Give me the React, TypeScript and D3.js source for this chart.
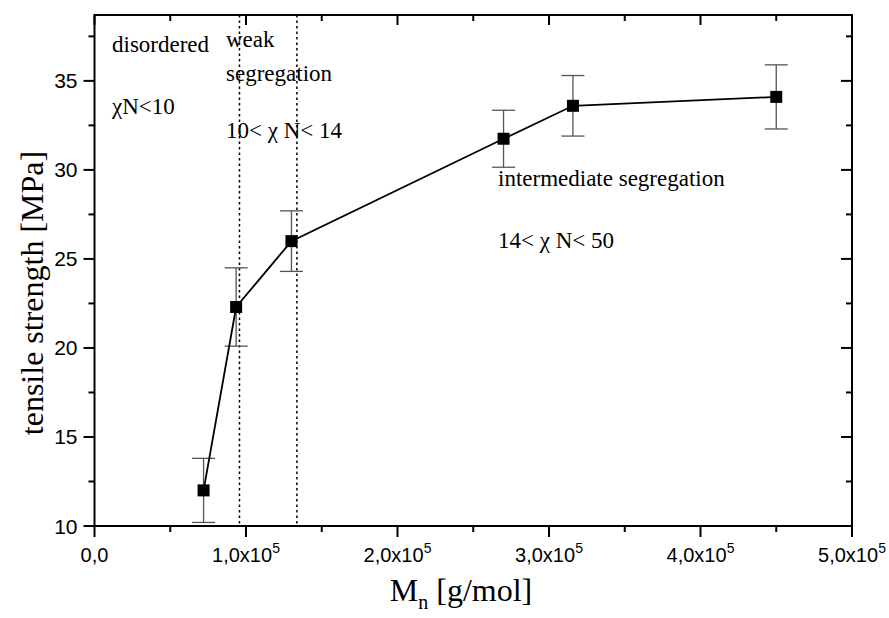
import React from "react";
import * as d3 from "d3";

const Mn = [72000, 93500, 130000, 270000, 315800, 450000];
const strength = [12.0, 22.3, 26.0, 31.75, 33.6, 34.1];
const errors = [1.8, 2.2, 1.7, 1.6, 1.7, 1.8];
const regionBoundaries = [95700, 133600];
const xTicks = [0, 100000, 200000, 300000, 400000, 500000];
const xTickMantissa = ["0,0", "1,0", "2,0", "3,0", "4,0", "5,0"];
const xMinorTicks = [50000, 150000, 250000, 350000, 450000];
const yTicks = [10, 15, 20, 25, 30, 35];
const yMinorTicks = [12.5, 17.5, 22.5, 27.5, 32.5, 37.5];

const W = 889;
const H = 618;
const left = 94.5;
const right = 852;
const top = 15;
const bottom = 526;

export default function App() {
  const x = d3.scaleLinear().domain([0, 500000]).range([left, right]);
  const y = d3.scaleLinear().domain([10, 38.7]).range([bottom, top]);
  const line = d3
    .line<number>()
    .x((_, i) => x(Mn[i]))
    .y((d) => y(d));
  const serif = "'Liberation Serif', 'Times New Roman', serif";
  const sans = "'Liberation Sans', Arial, sans-serif";
  const annSize = 23;

  return (
    <svg
      width={W}
      height={H}
      style={{ position: "absolute", left: 0, top: 0, background: "#fff" }}
    >
      <rect x={0} y={0} width={W} height={H} fill="#fff" />
      {regionBoundaries.map((v, i) => (
        <line
          key={"rb" + i}
          x1={x(v)}
          x2={x(v)}
          y1={top}
          y2={bottom}
          stroke="#000"
          strokeWidth={1.5}
          strokeDasharray="2.5,3"
        />
      ))}
      {Mn.map((m, i) => {
        const cx = x(m);
        const y1 = y(strength[i] + errors[i]);
        const y2 = y(strength[i] - errors[i]);
        return (
          <g key={"e" + i} stroke="#555" strokeWidth={1.3}>
            <line x1={cx} x2={cx} y1={y1} y2={y2} />
            <line x1={cx - 11.5} x2={cx + 11.5} y1={y1} y2={y1} />
            <line x1={cx - 11.5} x2={cx + 11.5} y1={y2} y2={y2} />
          </g>
        );
      })}
      <path d={line(strength) || ""} fill="none" stroke="#000" strokeWidth={1.8} />
      {Mn.map((m, i) => (
        <rect
          key={"m" + i}
          x={x(m) - 6}
          y={y(strength[i]) - 6}
          width={12}
          height={12}
          fill="#000"
        />
      ))}
      <rect
        x={left}
        y={top}
        width={right - left}
        height={bottom - top}
        fill="none"
        stroke="#000"
        strokeWidth={2}
      />
      {xTicks.map((v, i) => (
        <g key={"xt" + i} stroke="#000" strokeWidth={2}>
          <line x1={x(v)} x2={x(v)} y1={bottom} y2={bottom + 11} />
          <line x1={x(v)} x2={x(v)} y1={top} y2={top + 10} />
        </g>
      ))}
      {xMinorTicks.map((v, i) => (
        <g key={"xm" + i} stroke="#000" strokeWidth={2}>
          <line x1={x(v)} x2={x(v)} y1={bottom} y2={bottom + 6} />
          <line x1={x(v)} x2={x(v)} y1={top} y2={top + 6} />
        </g>
      ))}
      {yTicks.map((v, i) => (
        <g key={"yt" + i} stroke="#000" strokeWidth={2}>
          <line x1={left - 11} x2={left} y1={y(v)} y2={y(v)} />
          <line x1={right - 11} x2={right} y1={y(v)} y2={y(v)} />
        </g>
      ))}
      {yMinorTicks.map((v, i) => (
        <g key={"ym" + i} stroke="#000" strokeWidth={2}>
          <line x1={left - 6} x2={left} y1={y(v)} y2={y(v)} />
          <line x1={right - 6} x2={right} y1={y(v)} y2={y(v)} />
        </g>
      ))}
      {xTicks.map((v, i) => (
        <text
          key={"xl" + i}
          x={x(v)}
          y={562}
          textAnchor="middle"
          fontFamily={sans}
          fontSize={20}
          fill="#000"
        >
          {v === 0 ? (
            xTickMantissa[i]
          ) : (
            <>
              <tspan>{xTickMantissa[i] + "x10"}</tspan>
              <tspan dy={-9} fontSize={14}>
                5
              </tspan>
            </>
          )}
        </text>
      ))}
      {yTicks.map((v, i) => (
        <text
          key={"yl" + i}
          x={left - 17}
          y={y(v) + 7.5}
          textAnchor="end"
          fontFamily={sans}
          fontSize={21}
          fill="#000"
        >
          {v}
        </text>
      ))}
      <text
        x={461}
        y={601}
        textAnchor="middle"
        fontFamily={serif}
        fontSize={32}
        fill="#000"
      >
        <tspan>M</tspan>
        <tspan fontSize={20} dy={8}>
          n
        </tspan>
        <tspan dy={-8}> [g/mol]</tspan>
      </text>
      <text
        transform={`translate(43,293) rotate(-90)`}
        textAnchor="middle"
        fontFamily={serif}
        fontSize={32}
        fill="#000"
      >
        tensile strength [MPa]
      </text>
      <g fontFamily={serif} fontSize={annSize} fill="#000">
        <text x={112} y={52}>disordered</text>
        <text x={112} y={114}>χN&lt;10</text>
        <text x={226} y={47}>weak</text>
        <text x={226} y={81}>segregation</text>
        <text x={226} y={138}>10&lt; χ N&lt; 14</text>
        <text x={498} y={186}>intermediate segregation</text>
        <text x={498} y={248}>14&lt; χ N&lt; 50</text>
      </g>
    </svg>
  );
}
